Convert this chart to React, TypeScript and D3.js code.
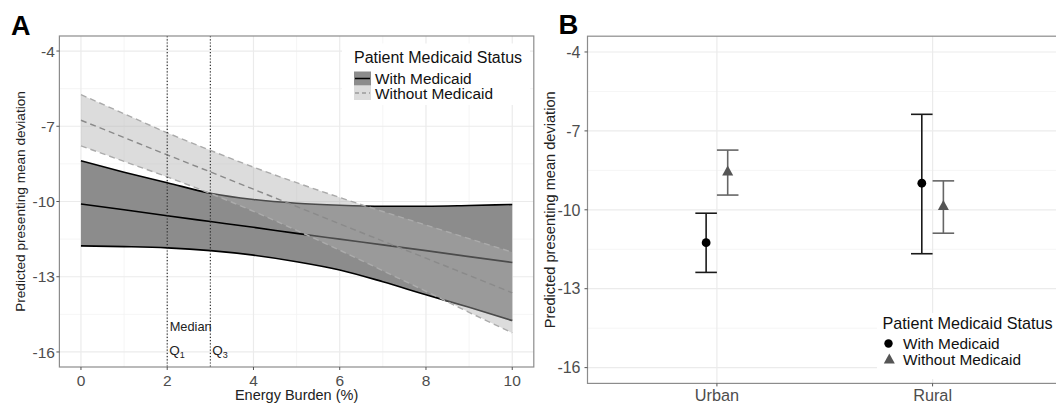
import React from "react";
import * as d3 from "d3";

// Panel A: predicted values vs energy burden
const energyBurden = [0, 1, 2, 3, 4, 5, 6, 7, 8, 9, 10];
const withFit = [-10.1, -10.33, -10.57, -10.8, -11.03, -11.27, -11.5, -11.73, -11.96, -12.2, -12.43];
const withUpper = [-8.38, -8.83, -9.25, -9.67, -9.92, -10.07, -10.15, -10.19, -10.19, -10.16, -10.12];
const withLower = [-11.77, -11.8, -11.85, -11.96, -12.14, -12.4, -12.73, -13.2, -13.72, -14.22, -14.75];
const withoutFit = [-6.76, -7.45, -8.14, -8.82, -9.51, -10.2, -10.89, -11.58, -12.26, -12.95, -13.64];
const withoutUpper = [-5.74, -6.5, -7.26, -7.96, -8.63, -9.25, -9.84, -10.4, -10.94, -11.48, -12.02];
const withoutLower = [-7.78, -8.4, -9.02, -9.68, -10.39, -11.15, -11.94, -12.76, -13.58, -14.42, -15.24];
const quartiles = [2, 3];

// Panel B: predicted values by rurality
const regions = ["Urban", "Rural"];
const withEst = [-11.25, -8.99];
const withLo = [-12.38, -11.67];
const withHi = [-10.13, -6.37];
const withoutEst = [-8.54, -9.86];
const withoutLo = [-9.44, -10.89];
const withoutHi = [-7.73, -8.9];

const yTicks = [-16, -13, -10, -7, -4];
const yMinor = [-14.5, -11.5, -8.5, -5.5];
const xTicksA = [0, 2, 4, 6, 8, 10];
const xMinorA = [1, 3, 5, 7, 9];

const FONT = "'Liberation Sans', Arial, sans-serif";
const GRID = "#ebebeb";
const BORDER = "#8c8c8c";
const TICK = "#555";
const LABEL = "#4d4d4d";

export default function App() {
  // panel A scales
  const xA = d3.scaleLinear().domain([-0.5, 10.5]).range([59.4, 533.8]);
  const yA = d3.scaleLinear().domain([-16.6, -3.4]).range([367, 36]);
  // panel B scales
  const xB = d3.scalePoint<string>().domain(regions).range([587.5, 1062]).padding(0.6);
  const yB = d3.scaleLinear().domain([-16.6, -3.4]).range([383.4, 36.2]);
  const step = xB.step();
  const dodge = step * 0.05;
  const capW = step * 0.1;

  const idx = energyBurden.map((_, i) => i);
  const area = (lo: number[], hi: number[]) =>
    d3
      .area<number>()
      .x((i) => xA(energyBurden[i]))
      .y0((i) => yA(lo[i]))
      .y1((i) => yA(hi[i]))
      .curve(d3.curveMonotoneX)(idx) || "";
  const line = (v: number[]) =>
    d3
      .line<number>()
      .x((i) => xA(energyBurden[i]))
      .y((i) => yA(v[i]))
      .curve(d3.curveMonotoneX)(idx) || "";

  const [aL, aR] = xA.range();
  const [aB, aT] = yA.range();
  const [bL, bR] = xB.range();
  const [bB, bT] = yB.range();

  const tri = (cx: number, cy: number, s: number) =>
    `M${cx},${cy - s * 0.6}L${cx + s * 0.55},${cy + s * 0.4}L${cx - s * 0.55},${cy + s * 0.4}Z`;

  return (
    <svg
      width={1056}
      height={404}
      style={{ position: "fixed", left: 0, top: 0, background: "#fff" }}
      fontFamily={FONT}
    >
      <rect width={1056} height={404} fill="#fff" />

      {/* ---------- Panel A ---------- */}
      <g>
        {yMinor.map((t) => (
          <line key={"ym" + t} x1={aL} x2={aR} y1={yA(t)} y2={yA(t)} stroke="#f3f3f3" strokeWidth={0.8} />
        ))}
        {xMinorA.map((t) => (
          <line key={"xm" + t} x1={xA(t)} x2={xA(t)} y1={aT} y2={aB} stroke="#f3f3f3" strokeWidth={0.8} />
        ))}
        {yTicks.map((t) => (
          <line key={"yg" + t} x1={aL} x2={aR} y1={yA(t)} y2={yA(t)} stroke={GRID} strokeWidth={1.2} />
        ))}
        {xTicksA.map((t) => (
          <line key={"xg" + t} x1={xA(t)} x2={xA(t)} y1={aT} y2={aB} stroke={GRID} strokeWidth={1.2} />
        ))}

        {/* with medicaid ribbon and lines */}
        <path d={area(withLower, withUpper)} fill="#8c8c8c" />
        <path d={line(withUpper)} fill="none" stroke="#000" strokeWidth={1.6} />
        <path d={line(withLower)} fill="none" stroke="#000" strokeWidth={1.6} />
        <path d={line(withFit)} fill="none" stroke="#000" strokeWidth={1.6} />

        {/* without medicaid ribbon and lines */}
        <path d={area(withoutLower, withoutUpper)} fill="#adadad" fillOpacity={0.43} />
        <path d={line(withoutUpper)} fill="none" stroke="#ababab" strokeWidth={1.4} strokeDasharray="6,4" />
        <path d={line(withoutLower)} fill="none" stroke="#ababab" strokeWidth={1.4} strokeDasharray="6,4" />
        <path d={line(withoutFit)} fill="none" stroke="#8a8a8a" strokeWidth={1.4} strokeDasharray="6,4" />

        {quartiles.map((q) => (
          <line key={"q" + q} x1={xA(q)} x2={xA(q)} y1={aT} y2={aB} stroke="#222" strokeWidth={1.1} strokeDasharray="1.2,2" />
        ))}
        <text x={xA(2) + 2.5} y={331} fontSize={12.8} fill="#222">Median</text>
        <text x={xA(2) + 2} y={355} fontSize={13.5} fill="#222">
          Q<tspan fontSize={9} dy={3}>1</tspan>
        </text>
        <text x={xA(3) + 2} y={355} fontSize={13.5} fill="#222">
          Q<tspan fontSize={9} dy={3}>3</tspan>
        </text>

        <rect x={aL} y={aT} width={aR - aL} height={aB - aT} fill="none" stroke={BORDER} strokeWidth={1.2} />

        {/* axes */}
        {yTicks.map((t) => (
          <g key={"yt" + t}>
            <line x1={aL - 3} x2={aL} y1={yA(t)} y2={yA(t)} stroke={TICK} />
            <text x={aL - 4.5} y={yA(t)} dy="0.36em" textAnchor="end" fontSize={15.5} fill={LABEL}>
              {t}
            </text>
          </g>
        ))}
        {xTicksA.map((t) => (
          <g key={"xt" + t}>
            <line x1={xA(t)} x2={xA(t)} y1={aB} y2={aB + 3} stroke={TICK} />
            <text x={xA(t)} y={386} textAnchor="middle" fontSize={15.5} fill={LABEL}>
              {t}
            </text>
          </g>
        ))}
        <text x={(aL + aR) / 2} y={400} textAnchor="middle" fontSize={14.5} fill="#222">
          Energy Burden (%)
        </text>
        <text
          transform={`translate(25,${(aT + aB) / 2}) rotate(-90)`}
          textAnchor="middle"
          fontSize={13.6}
          fill="#222"
        >
          Predicted presenting mean deviation
        </text>

        {/* legend */}
        <rect x={342} y={43.5} width={188} height={61.5} fill="#fff" />
        <text x={354} y={63} fontSize={16} fill="#111">Patient Medicaid Status</text>
        <rect x={354} y={71.5} width={17} height={14} fill="#8c8c8c" />
        <line x1={355} x2={370} y1={78.5} y2={78.5} stroke="#000" strokeWidth={1.5} />
        <rect x={354} y={86} width={17} height={14} fill="#dcdcdc" />
        <line x1={355} x2={370} y1={93} y2={93} stroke="#9a9a9a" strokeWidth={1.3} strokeDasharray="4,3" />
        <text x={375} y={83.5} fontSize={15.4} fill="#111">With Medicaid</text>
        <text x={375} y={99} fontSize={15.4} fill="#111">Without Medicaid</text>

        <text x={11} y={34.5} fontSize={27} fontWeight="bold" fill="#000">A</text>
      </g>

      {/* ---------- Panel B ---------- */}
      <g>
        {yMinor.map((t) => (
          <line key={"bym" + t} x1={bL} x2={bR} y1={yB(t)} y2={yB(t)} stroke="#f3f3f3" strokeWidth={0.8} />
        ))}
        {yTicks.map((t) => (
          <line key={"byg" + t} x1={bL} x2={bR} y1={yB(t)} y2={yB(t)} stroke={GRID} strokeWidth={1.2} />
        ))}
        {regions.map((r) => (
          <line key={"bxg" + r} x1={xB(r)!} x2={xB(r)!} y1={bT} y2={bB} stroke={GRID} strokeWidth={1.2} />
        ))}

        {regions.map((r, i) => {
          const cx = xB(r)! - dodge;
          return (
            <g key={"w" + r} stroke="#1a1a1a" strokeWidth={1.6}>
              <line x1={cx} x2={cx} y1={yB(withLo[i])} y2={yB(withHi[i])} />
              <line x1={cx - capW / 2} x2={cx + capW / 2} y1={yB(withLo[i])} y2={yB(withLo[i])} />
              <line x1={cx - capW / 2} x2={cx + capW / 2} y1={yB(withHi[i])} y2={yB(withHi[i])} />
              <circle cx={cx} cy={yB(withEst[i])} r={4.4} fill="#000" stroke="none" />
            </g>
          );
        })}
        {regions.map((r, i) => {
          const cx = xB(r)! + dodge;
          return (
            <g key={"wo" + r} stroke="#666" strokeWidth={1.6}>
              <line x1={cx} x2={cx} y1={yB(withoutLo[i])} y2={yB(withoutHi[i])} />
              <line x1={cx - capW / 2} x2={cx + capW / 2} y1={yB(withoutLo[i])} y2={yB(withoutLo[i])} />
              <line x1={cx - capW / 2} x2={cx + capW / 2} y1={yB(withoutHi[i])} y2={yB(withoutHi[i])} />
              <path d={tri(cx, yB(withoutEst[i]), 10)} fill="#555" stroke="none" />
            </g>
          );
        })}

        <rect x={bL} y={bT} width={bR - bL} height={bB - bT} fill="none" stroke={BORDER} strokeWidth={1.2} />

        {yTicks.map((t) => (
          <g key={"byt" + t}>
            <line x1={bL - 3} x2={bL} y1={yB(t)} y2={yB(t)} stroke={TICK} />
            <text x={bL - 7} y={yB(t)} dy="0.36em" textAnchor="end" fontSize={16} fill={LABEL}>
              {t}
            </text>
          </g>
        ))}
        {regions.map((r) => (
          <g key={"bxt" + r}>
            <line x1={xB(r)!} x2={xB(r)!} y1={bB} y2={bB + 3} stroke={TICK} />
            <text x={xB(r)!} y={401} textAnchor="middle" fontSize={16.3} fill={LABEL}>
              {r}
            </text>
          </g>
        ))}
        <text
          transform={`translate(555,${(bT + bB) / 2}) rotate(-90)`}
          textAnchor="middle"
          fontSize={14.6}
          fill="#222"
        >
          Predicted presenting mean deviation
        </text>

        {/* legend */}
        <rect x={877} y={313} width={185} height={66} fill="#fff" />
        <text x={882.5} y={329} fontSize={16.2} fill="#111">Patient Medicaid Status</text>
        <circle cx={888.5} cy={343.5} r={4.2} fill="#000" />
        <path d={tri(889.3, 359.5, 10)} fill="#555" />
        <text x={903} y={349} fontSize={15.4} fill="#111">With Medicaid</text>
        <text x={903} y={365} fontSize={15.4} fill="#111">Without Medicaid</text>

        <text x={558.5} y={34.3} fontSize={27.5} fontWeight="bold" fill="#000">B</text>
      </g>
    </svg>
  );
}
